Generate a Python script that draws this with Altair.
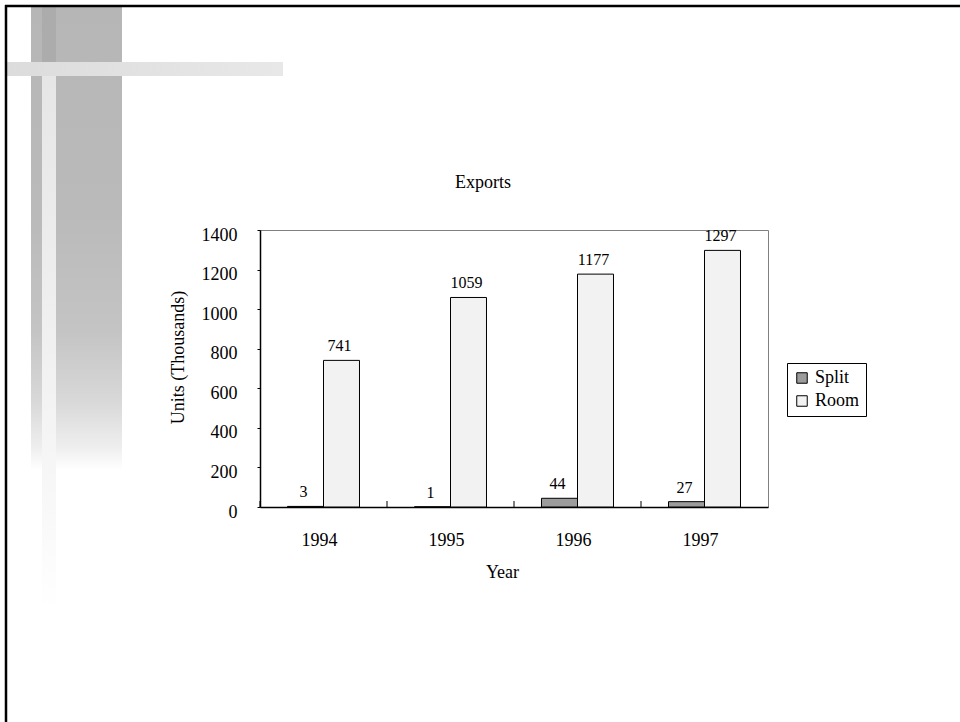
import altair as alt
import pandas as pd

# Export volumes by product type (thousands of units)
years = ["1994", "1995", "1996", "1997"]
split_units = [3, 1, 44, 27]
room_units = [741, 1059, 1177, 1297]
series = ["Split", "Room"]
series_colors = ["#9c9c9c", "#f2f2f2"]
y_ticks = [0, 200, 400, 600, 800, 1000, 1200, 1400]

rows = []
for i, yr in enumerate(years):
    rows.append({"Year": yr, "Type": "Split", "Units": split_units[i]})
    rows.append({"Year": yr, "Type": "Room", "Units": room_units[i]})
df = pd.DataFrame(rows)

FONT = "Liberation Serif"
one = pd.DataFrame({"k": [0]})

# ---- slide decoration (positions relative to the plot origin) ----
def deco_rect(x, x2, y, y2, fill):
    return alt.Chart(one).mark_rect(fill=fill, strokeWidth=0).encode(
        x=alt.value(x), x2=alt.value(x2), y=alt.value(y), y2=alt.value(y2)
    )

def vgrad(stops):
    return alt.Gradient(
        gradient="linear",
        stops=[alt.GradientStop(color=c, offset=o) for o, c in stops],
        x1=0, x2=0, y1=0, y2=1,
    )

strip = deco_rect(-229, -138, -223, 240, vgrad([
    (0.0, "#b6b6b6"), (0.45, "#bababa"), (0.7, "#c4c4c4"),
    (0.85, "#d8d8d8"), (0.95, "#eeeeee"), (1.0, "#ffffff")]))
stripe_top = deco_rect(-218, -204, -223, -168, "#acacac")
stripe = deco_rect(-218, -204, -154, 380, vgrad([
    (0.0, "#e6e6e6"), (0.5, "#f0f0f0"), (0.8, "#f8f8f8"), (1.0, "#ffffff")]))
hbar = alt.Chart(one).mark_rect(
    fill=alt.Gradient(
        gradient="linear",
        stops=[alt.GradientStop(color="#dcdcdc", offset=0),
               alt.GradientStop(color="#e8e8e8", offset=1)],
        x1=0, x2=1, y1=0, y2=0),
    strokeWidth=0,
).encode(x=alt.value(-253), x2=alt.value(23), y=alt.value(-168), y2=alt.value(-154))

frame_top = alt.Chart(one).mark_rule(color="black", strokeWidth=2.5).encode(
    x=alt.value(-255), x2=alt.value(700), y=alt.value(-224))
frame_left = alt.Chart(one).mark_rule(color="black", strokeWidth=2.5).encode(
    x=alt.value(-254), y=alt.value(-225), y2=alt.value(492))

# chart title
title = alt.Chart(pd.DataFrame({"t": ["Exports"]})).mark_text(
    font=FONT, fontSize=18, color="black", baseline="alphabetic", align="center"
).encode(x=alt.value(223), y=alt.value(-42), text="t:N")

# ---- shared axes / scales ----
x_scale = alt.Scale(paddingInner=0, paddingOuter=0)
x_axis = alt.Axis(
    title="Year", labelAngle=0, ticks=False, tickSize=0,
    labelPadding=24, labelOffset=-4, labelFontSize=18,
    titleFontSize=18, titleX=242, titleY=65,
    titleBaseline="middle", titleAlign="center",
    domainColor="black", domainWidth=1.5,
)
y_scale = alt.Scale(domain=[0, 1400], nice=False)
y_axis = alt.Axis(
    title="Units (Thousands)", values=y_ticks, format="d",
    labelOverlap=False, tickSize=3,
    labelPadding=20, labelOffset=5, labelFontSize=18, grid=False,
    titleFontSize=18, titleX=-82, titleY=127, titleAngle=270,
    titleAlign="center", titleBaseline="middle",
    domainColor="black", domainWidth=1.5, tickColor="black",
)
x_enc = alt.X("Year:N", sort=years, scale=x_scale, axis=x_axis)
x_off = alt.XOffset(
    "Type:N", sort=series,
    scale=alt.Scale(paddingInner=0, paddingOuter=0.764),
)
y_enc = alt.Y("Units:Q", scale=y_scale, axis=y_axis)

bars = alt.Chart(df).mark_bar(stroke="black", strokeWidth=1).encode(
    x=x_enc,
    xOffset=x_off,
    y=y_enc,
    color=alt.Color(
        "Type:N", sort=series,
        scale=alt.Scale(domain=series, range=series_colors),
        legend=alt.Legend(
            title=None, orient="none", legendX=527, legendY=133,
            fillColor="white", strokeColor="black", padding=6,
            symbolType="square", symbolSize=110, symbolOpacity=1,
            symbolStrokeColor="black", symbolStrokeWidth=1,
            labelFontSize=18, labelFont=FONT, rowPadding=5,
            labelOffset=4,
        ),
    ),
)

values = alt.Chart(df).mark_text(
    baseline="alphabetic", dy=-9, dx=-2, fontSize=16, font=FONT, color="black"
).encode(
    x=x_enc,
    xOffset=x_off,
    y=y_enc,
    text="Units:Q",
)

# inward ticks on category boundaries
bounds = alt.Chart(pd.DataFrame({"Year": years})).mark_rule(
    color="black", strokeWidth=1
).encode(
    x=alt.X("Year:N", sort=years, bandPosition=0, scale=x_scale, axis=x_axis),
    y=alt.value(277), y2=alt.value(271),
)

chart = alt.layer(
    strip, stripe_top, stripe, hbar, frame_top, frame_left, title,
    bars, values, bounds,
).properties(
    width=508, height=277,
    padding={"left": 260, "top": 230, "right": 192, "bottom": 215},
    autosize=alt.AutoSizeParams(type="none"),
    background="white",
).configure_view(
    stroke="#808080", strokeWidth=1,
).configure_axis(
    labelFont=FONT, titleFont=FONT, labelColor="black", titleColor="black",
    titleFontWeight="normal",
).configure_legend(
    labelColor="black",
)

chart.save("out.html", embed_options={"renderer": "svg", "actions": False})
